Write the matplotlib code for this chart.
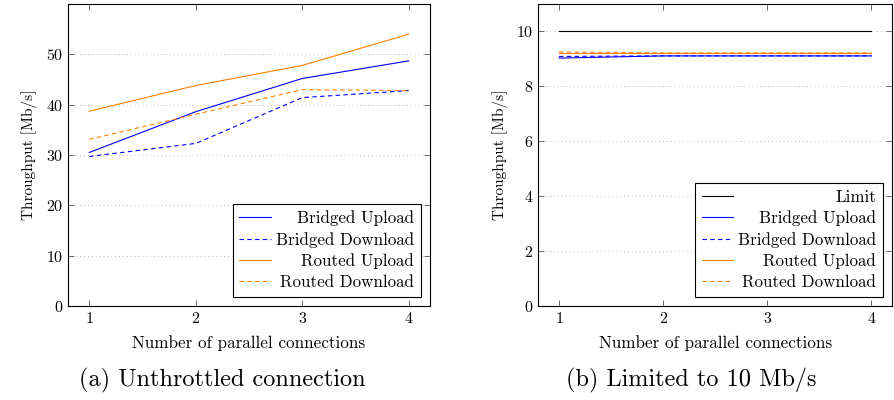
import matplotlib
matplotlib.use("Agg")
import matplotlib.pyplot as plt

plt.rcParams.update({"font.family": "cmr10", "mathtext.fontset": "cm",
                     "axes.formatter.use_mathtext": True, "font.size": 11})

conns = [1, 2, 3, 4]

# (a) unthrottled
a_bridged_up = [30.5, 38.6, 45.2, 48.7]
a_bridged_down = [29.7, 32.3, 41.4, 42.8]
a_routed_up = [38.7, 43.8, 47.8, 54.0]
a_routed_down = [33.1, 38.1, 43.0, 42.8]

# (b) limited to 10 Mb/s
b_limit = [10, 10, 10, 10]
b_bridged_up = [9.03, 9.11, 9.11, 9.11]
b_bridged_down = [9.09, 9.11, 9.11, 9.11]
b_routed_up = [9.21, 9.21, 9.21, 9.21]
b_routed_down = [9.25, 9.22, 9.22, 9.22]

BLUE = "#0000ff"
ORANGE = "#ff8000"
LW = 0.8

fig = plt.figure(figsize=(8.94, 4.0), dpi=100)
ax1 = fig.add_axes([0.076, 0.235, 0.405, 0.755])
ax2 = fig.add_axes([0.602, 0.235, 0.396, 0.755])


def style(ax, ylim, yticks):
    ax.set_xlim(0.8, 4.2)
    ax.set_ylim(*ylim)
    ax.set_xticks(conns)
    ax.set_yticks(yticks)
    ax.yaxis.grid(True, linestyle=(0, (1, 3)), color="#bbbbbb", linewidth=0.7)
    ax.set_axisbelow(True)
    ax.tick_params(direction="in", length=4, width=0.6, top=True, right=True,
                   color="#555555", labelsize=11.5)
    for s in ax.spines.values():
        s.set_linewidth(0.8)
    ax.set_xlabel("Number of parallel connections", fontsize=12.3, labelpad=7)
    ax.set_ylabel("Throughput [Mb/s]", fontsize=11, labelpad=6)


def right_legend(ax):
    leg = ax.legend(loc="lower right", fancybox=False, edgecolor="black",
                    framealpha=1, fontsize=12.2, handlelength=1.85,
                    borderpad=0.4, labelspacing=0.33, handletextpad=0.3,
                    borderaxespad=0.55)
    leg.get_frame().set_linewidth(0.8)
    fig.canvas.draw()
    r = fig.canvas.get_renderer()
    widths = [t.get_window_extent(r).width for t in leg.get_texts()]
    shift = max(widths)
    # right-align the entries, pgfplots style
    for t, w in zip(leg.get_texts(), widths):
        t.set_position((shift - w, 0))


ax1.plot(conns, a_bridged_up, color=BLUE, lw=LW, label="Bridged Upload")
ax1.plot(conns, a_bridged_down, color=BLUE, lw=LW, ls=(0, (4, 3)), label="Bridged Download")
ax1.plot(conns, a_routed_up, color=ORANGE, lw=LW, label="Routed Upload")
ax1.plot(conns, a_routed_down, color=ORANGE, lw=LW, ls=(0, (4, 3)), label="Routed Download")
style(ax1, (0, 60), [0, 10, 20, 30, 40, 50])

ax2.plot(conns, b_limit, color="black", lw=LW, label="Limit")
ax2.plot(conns, b_bridged_up, color=BLUE, lw=LW, label="Bridged Upload")
ax2.plot(conns, b_bridged_down, color=BLUE, lw=LW, ls=(0, (4, 3)), label="Bridged Download")
ax2.plot(conns, b_routed_up, color=ORANGE, lw=LW, label="Routed Upload")
ax2.plot(conns, b_routed_down, color=ORANGE, lw=LW, ls=(0, (4, 3)), label="Routed Download")
style(ax2, (0, 11), [0, 2, 4, 6, 8, 10])

right_legend(ax1)
right_legend(ax2)

fig.text(0.249, 0.05, "(a) Unthrottled connection", ha="center", va="center", fontsize=17.5)
fig.text(0.7735, 0.05, "(b) Limited to 10 Mb/s", ha="center", va="center", fontsize=17.5)

fig.savefig("out.png", dpi=100)
